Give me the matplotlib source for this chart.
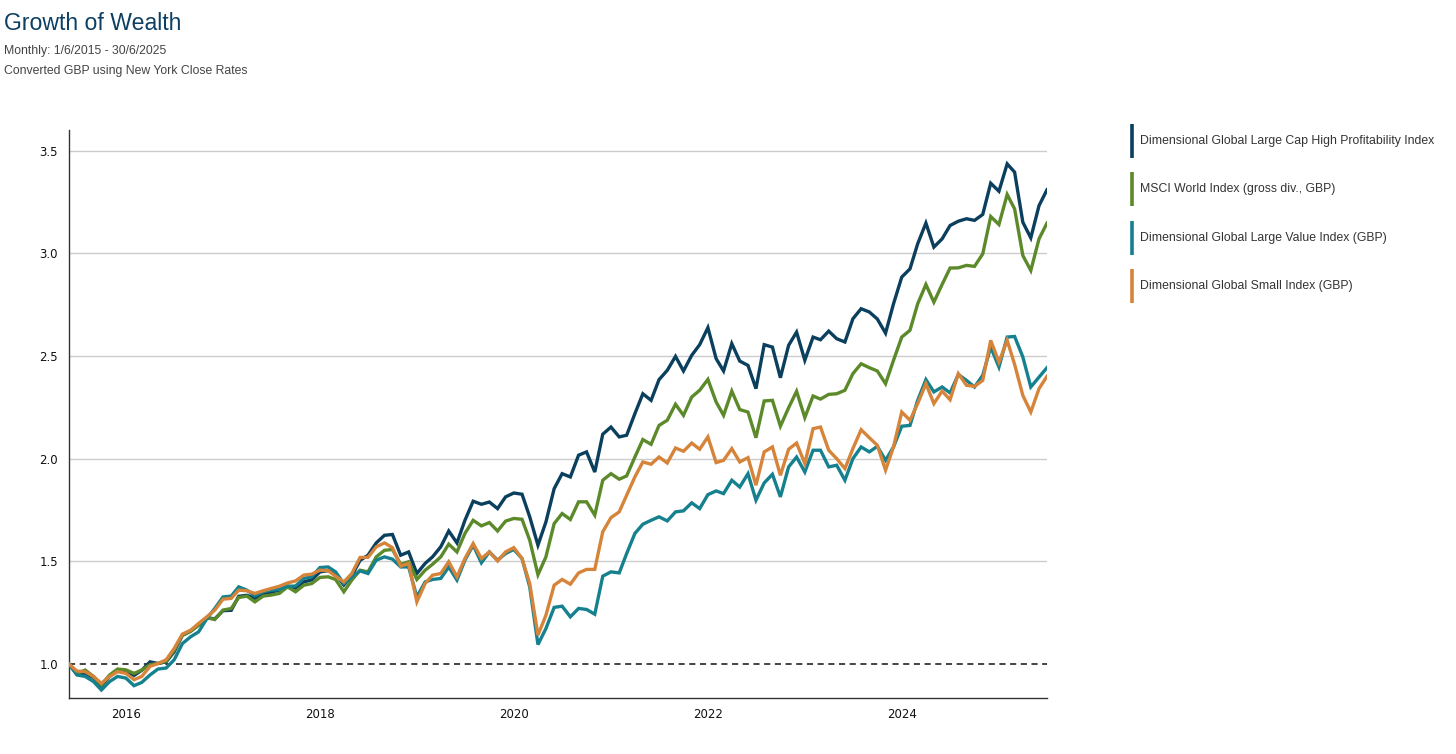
import matplotlib
matplotlib.use("Agg")
import matplotlib.pyplot as plt
from matplotlib.lines import Line2D
import pandas as pd

dates = pd.date_range("2015-05-31", periods=122, freq="ME")

series_names = [
    "Dimensional Global Large Cap High Profitability Index",
    "MSCI World Index (gross div., GBP)",
    "Dimensional Global Large Value Index (GBP)",
    "Dimensional Global Small Index (GBP)",
]
colors = ["#0b3f5e", "#5c8a2b", "#16818e", "#d6843a"]

high_prof = [
    1.00, 0.95, 0.955, 0.935, 0.895, 0.94, 0.97, 0.965, 0.945, 0.97,
    1.011, 1.003, 1.011, 1.06, 1.14, 1.16, 1.19, 1.226, 1.22, 1.26,
    1.262, 1.33, 1.335, 1.32, 1.34, 1.35, 1.36, 1.38, 1.37, 1.40,
    1.41, 1.449, 1.455, 1.44, 1.385, 1.43, 1.505, 1.530, 1.590, 1.627,
    1.631, 1.530, 1.546, 1.441, 1.49, 1.522, 1.571, 1.648, 1.59, 1.70,
    1.793, 1.778, 1.789, 1.757, 1.814, 1.833, 1.827, 1.717, 1.579, 1.692,
    1.854, 1.927, 1.911, 2.017, 2.033, 1.935, 2.119, 2.154, 2.106, 2.114,
    2.219, 2.316, 2.284, 2.385, 2.430, 2.498, 2.427, 2.503, 2.555, 2.638,
    2.487, 2.427, 2.560, 2.475, 2.454, 2.341, 2.555, 2.543, 2.394, 2.552,
    2.616, 2.479, 2.592, 2.579, 2.621, 2.584, 2.568, 2.681, 2.730, 2.714,
    2.68, 2.611, 2.754, 2.884, 2.924, 3.046, 3.147, 3.030, 3.070, 3.135,
    3.156, 3.168, 3.160, 3.189, 3.341, 3.302, 3.435, 3.395, 3.151, 3.075,
    3.232, 3.309,
]

msci_world = [
    1.00, 0.955, 0.971, 0.94, 0.90, 0.947, 0.976, 0.972, 0.955, 0.971,
    0.997, 1.003, 1.015, 1.068, 1.141, 1.16, 1.19, 1.226, 1.217, 1.263,
    1.271, 1.324, 1.331, 1.303, 1.331, 1.336, 1.344, 1.376, 1.352, 1.384,
    1.392, 1.422, 1.425, 1.412, 1.352, 1.409, 1.457, 1.449, 1.522, 1.554,
    1.558, 1.486, 1.498, 1.412, 1.457, 1.486, 1.522, 1.584, 1.546, 1.636,
    1.700, 1.673, 1.689, 1.648, 1.696, 1.709, 1.705, 1.603, 1.435, 1.522,
    1.684, 1.733, 1.704, 1.790, 1.790, 1.725, 1.895, 1.927, 1.900, 1.916,
    2.008, 2.093, 2.070, 2.162, 2.187, 2.265, 2.211, 2.300, 2.333, 2.386,
    2.276, 2.211, 2.329, 2.239, 2.227, 2.102, 2.281, 2.284, 2.158, 2.248,
    2.328, 2.200, 2.305, 2.290, 2.313, 2.316, 2.333, 2.414, 2.462, 2.443,
    2.427, 2.365, 2.479, 2.592, 2.625, 2.754, 2.848, 2.762, 2.848, 2.928,
    2.929, 2.941, 2.936, 2.997, 3.179, 3.140, 3.286, 3.216, 2.989, 2.916,
    3.070, 3.147,
]

large_value = [
    1.00, 0.947, 0.94, 0.915, 0.874, 0.915, 0.94, 0.932, 0.895, 0.911,
    0.947, 0.976, 0.981, 1.021, 1.10, 1.133, 1.157, 1.221, 1.271, 1.327,
    1.331, 1.376, 1.36, 1.332, 1.352, 1.36, 1.363, 1.379, 1.38, 1.417,
    1.425, 1.470, 1.473, 1.449, 1.392, 1.425, 1.454, 1.441, 1.506, 1.522,
    1.511, 1.473, 1.473, 1.327, 1.400, 1.412, 1.417, 1.473, 1.409, 1.506,
    1.579, 1.493, 1.546, 1.506, 1.538, 1.558, 1.514, 1.376, 1.095, 1.173,
    1.276, 1.282, 1.230, 1.271, 1.266, 1.243, 1.428, 1.449, 1.444, 1.538,
    1.636, 1.681, 1.700, 1.717, 1.697, 1.741, 1.746, 1.785, 1.757, 1.825,
    1.843, 1.830, 1.895, 1.862, 1.927, 1.798, 1.882, 1.924, 1.814, 1.960,
    2.008, 1.935, 2.041, 2.041, 1.960, 1.968, 1.895, 2.000, 2.057, 2.033,
    2.06, 1.992, 2.057, 2.158, 2.162, 2.284, 2.385, 2.325, 2.349, 2.320,
    2.410, 2.381, 2.349, 2.406, 2.543, 2.446, 2.592, 2.595, 2.495, 2.349,
    2.397, 2.443,
]

small = [
    1.00, 0.966, 0.963, 0.94, 0.906, 0.94, 0.963, 0.955, 0.924, 0.94,
    0.989, 1.003, 1.021, 1.076, 1.146, 1.165, 1.198, 1.230, 1.263, 1.316,
    1.32, 1.360, 1.357, 1.344, 1.357, 1.368, 1.379, 1.395, 1.405, 1.433,
    1.438, 1.457, 1.455, 1.428, 1.400, 1.441, 1.519, 1.52, 1.571, 1.590,
    1.567, 1.477, 1.490, 1.303, 1.392, 1.433, 1.441, 1.498, 1.425, 1.514,
    1.587, 1.514, 1.546, 1.502, 1.546, 1.567, 1.514, 1.392, 1.141, 1.238,
    1.384, 1.412, 1.389, 1.444, 1.461, 1.461, 1.644, 1.713, 1.741, 1.822,
    1.911, 1.984, 1.973, 2.008, 1.979, 2.052, 2.036, 2.076, 2.046, 2.106,
    1.981, 1.992, 2.049, 1.984, 2.005, 1.871, 2.033, 2.057, 1.919, 2.046,
    2.076, 1.976, 2.146, 2.154, 2.041, 2.000, 1.952, 2.049, 2.141, 2.102,
    2.065, 1.944, 2.057, 2.227, 2.187, 2.268, 2.365, 2.268, 2.329, 2.287,
    2.414, 2.357, 2.352, 2.381, 2.576, 2.470, 2.576, 2.459, 2.308, 2.227,
    2.341, 2.401,
]

y_ticks = [1.0, 1.5, 2.0, 2.5, 3.0, 3.5]
x_tick_years = [2016, 2018, 2020, 2022, 2024]

W, H = 1456, 754
fig = plt.figure(figsize=(W / 100, H / 100), dpi=100)
ax = fig.add_axes([69 / W, 1 - 698 / H, (1047 - 69) / W, (698 - 130) / H])

for yt in y_ticks[1:]:
    ax.axhline(yt, color="#cccccc", lw=1.0, zorder=0)
ax.axhline(1.0, color="#111111", lw=1.1, ls=(0, (4, 3)), zorder=1)

all_series = [high_prof, msci_world, large_value, small]
for k, (vals, c) in enumerate(zip(all_series, colors)):
    ax.plot(dates, vals, color=c, lw=2.4, solid_joinstyle="miter", zorder=3 + k)

ax.set_xlim(dates[0], dates[-1])
ax.set_ylim(0.835, 3.60)
ax.set_yticks(y_ticks)
ax.set_yticklabels([f"{v:.1f}" for v in y_ticks])
ax.set_xticks([pd.Timestamp(f"{y}-01-01") for y in x_tick_years])
ax.set_xticklabels([str(y) for y in x_tick_years])
ax.tick_params(axis="both", length=0, labelsize=8.5, colors="#111111", labelfontfamily="DejaVu Sans")
ax.tick_params(axis="y", pad=8)
ax.tick_params(axis="x", pad=7.5)
for s in ["top", "right"]:
    ax.spines[s].set_visible(False)
for s in ["left", "bottom"]:
    ax.spines[s].set_color("#333333")
    ax.spines[s].set_linewidth(1.0)

fig.text(4 / W, 1 - 24 / H, "Growth of Wealth", fontsize=16.6, color="#0d3f62",
         family="Liberation Sans", va="center", ha="left")
fig.text(4 / W, 1 - 51 / H, "Monthly: 1/6/2015 - 30/6/2025", fontsize=8.8, color="#444444",
         family="Liberation Sans", va="center", ha="left")
fig.text(4 / W, 1 - 71 / H, "Converted GBP using New York Close Rates", fontsize=8.8, color="#444444",
         family="Liberation Sans", va="center", ha="left")

legend_y = [141, 189, 238, 286]
for name, c, yc in zip(series_names, colors, legend_y):
    fig.add_artist(Line2D([1131.5 / W, 1131.5 / W], [1 - (yc - 17) / H, 1 - (yc + 17) / H],
                          color=c, lw=2.6, solid_capstyle="butt"))
    fig.text(1140 / W, 1 - yc / H, name, fontsize=8.8, color="#333333",
             family="Liberation Sans", va="center", ha="left")

fig.savefig("out.png", dpi=100, facecolor="white")
